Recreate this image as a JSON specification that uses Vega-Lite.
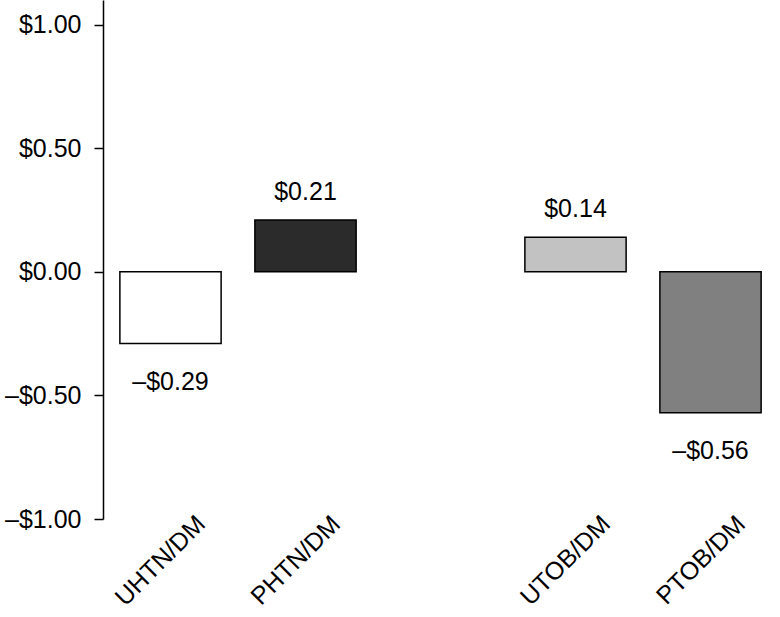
{
  "$schema": "https://vega.github.io/schema/vega-lite/v6.json",
  "width": 675,
  "height": 519,
  "autosize": {"type": "none"},
  "padding": {"left": 103, "top": 0, "right": 2, "bottom": 98},
  "background": "white",
  "config": {
    "view": {"stroke": null},
    "font": "Liberation Sans",
    "axis": {"grid": false, "labelColor": "black", "domainColor": "black", "tickColor": "black", "labelFont": "Liberation Sans"}
  },
  "data": {
    "values": [
      {"group": "UHTN/DM", "value": -0.29, "label": "–$0.29"},
      {"group": "PHTN/DM", "value": 0.21, "label": "$0.21"},
      {"group": "UTOB/DM", "value": 0.14, "label": "$0.14"},
      {"group": "PTOB/DM", "value": -0.57, "label": "–$0.56"}
    ]
  },
  "encoding": {
    "x": {
      "field": "group",
      "type": "nominal",
      "sort": null,
      "scale": {"domain": ["UHTN/DM", "PHTN/DM", "gap", "UTOB/DM", "PTOB/DM"], "paddingInner": 0.25, "paddingOuter": 0.125},
      "axis": {
        "title": null,
        "domain": false,
        "ticks": false,
        "labelAngle": -45,
        "labelAlign": "right",
        "labelBaseline": "top",
        "labelFontSize": 25,
        "labelPadding": -8,
        "labelOffset": 22,
        "labelExpr": "datum.value == 'gap' ? '' : datum.value"
      }
    }
  },
  "layer": [
    {
      "mark": {"type": "bar", "stroke": "black", "strokeWidth": 1.5},
      "encoding": {
        "y": {
          "field": "value",
          "type": "quantitative",
          "scale": {"domain": [-1, 1.1], "nice": false, "zero": true},
          "axis": {
            "title": null,
            "values": [-1, -0.5, 0, 0.5, 1],
            "labelExpr": "datum.value < 0 ? '–$' + format(-datum.value, '.2f') : '$' + format(datum.value, '.2f')",
            "labelFontSize": 25,
            "tickSize": 9,
            "tickWidth": 1.5,
            "domainWidth": 1.5,
            "labelPadding": 13
          }
        },
        "fill": {
          "field": "group",
          "type": "nominal",
          "scale": {"domain": ["UHTN/DM", "PHTN/DM", "UTOB/DM", "PTOB/DM"], "range": ["#ffffff", "#2b2b2b", "#c2c2c2", "#808080"]},
          "legend": null
        }
      }
    },
    {
      "mark": {"type": "rule", "color": "black", "strokeWidth": 1.5},
      "encoding": {"y": {"datum": 0}}
    },
    {
      "transform": [{"filter": "datum.value >= 0"}],
      "mark": {"type": "text", "fontSize": 25, "baseline": "alphabetic", "dy": -20, "color": "black"},
      "encoding": {
        "y": {"field": "value", "type": "quantitative"},
        "text": {"field": "label"}
      }
    },
    {
      "transform": [{"filter": "datum.value < 0"}],
      "mark": {"type": "text", "fontSize": 25, "baseline": "alphabetic", "dy": 46, "color": "black"},
      "encoding": {
        "y": {"field": "value", "type": "quantitative"},
        "text": {"field": "label"}
      }
    }
  ]
}
